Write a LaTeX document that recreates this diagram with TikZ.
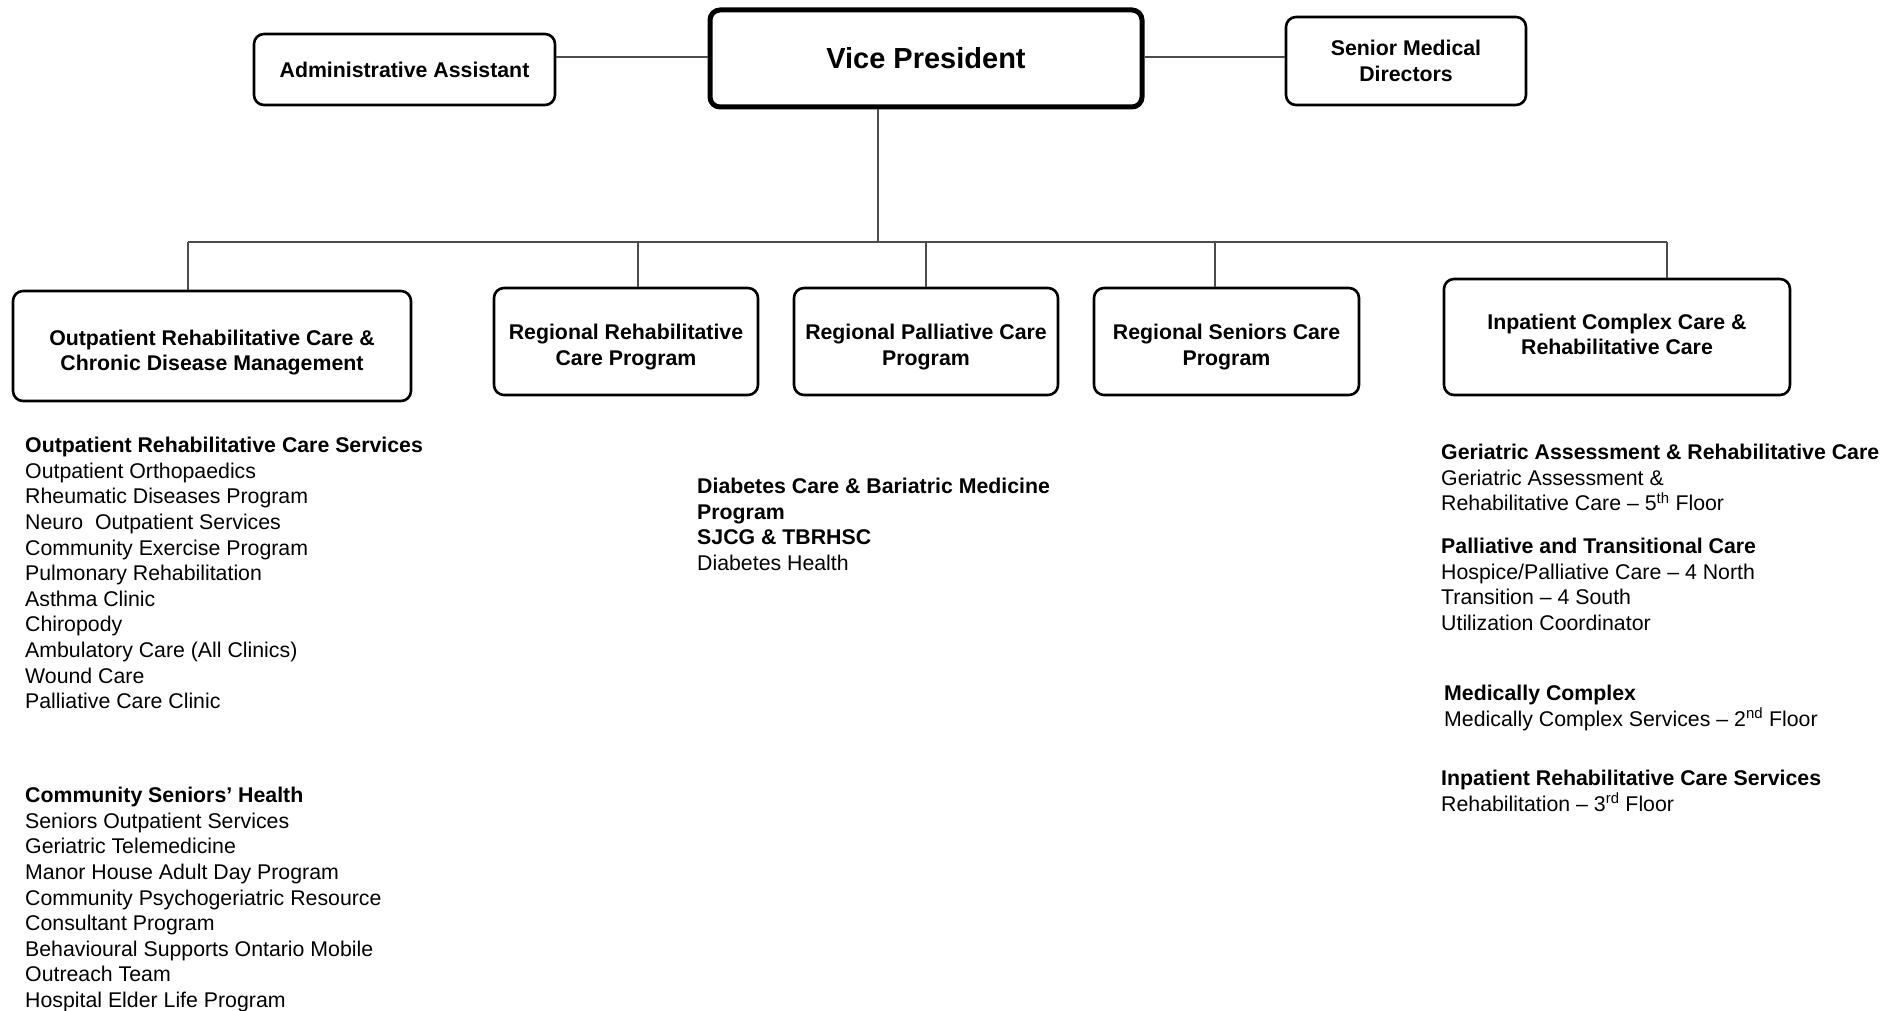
\documentclass[tikz,border=0pt]{standalone}
\usepackage{fontspec}
\setmainfont{Liberation Sans}
\newcommand{\boxtxt}[2]{\raisebox{-#1pt}[\height][\depth]{\begin{tabular}{@{}c@{}}#2\end{tabular}}}
\begin{document}
\begin{tikzpicture}[x=1pt,y=-1pt,
  box/.style={draw=black,line width=2.6pt,rounded corners=10pt,align=center,
    font=\fontsize{21.3}{25.5}\selectfont\bfseries,inner sep=2pt},
  conn/.style={draw=black!70,line width=1.1pt},
  list/.style={anchor=north west,align=left,inner sep=0pt,
    font=\fontsize{21.3}{25.6}\selectfont}]
\useasboundingbox (0,0) rectangle (1899,1011);
% top row
\node[box,line width=5pt,minimum width=432pt,minimum height=97pt,
  font=\fontsize{29}{34}\selectfont\bfseries] (vp) at (926,58.5) {Vice President};
\node[box,minimum width=301pt,minimum height=71pt] (aa) at (404.5,69.5) {Administrative Assistant};
\node[box,minimum width=240pt,minimum height=88pt] (smd) at (1406,61) {Senior Medical\\Directors};
\coordinate (ly) at (0,57);
\draw[conn] (aa.east |- ly) -- (vp.west |- ly);
\draw[conn] (vp.east |- ly) -- (smd.west |- ly);
% second row
\node[box,minimum width=398pt,minimum height=110pt] (b1) at (212,346) {\boxtxt{7}{Outpatient Rehabilitative Care \&\\Chronic Disease Management}};
\node[box,minimum width=264pt,minimum height=107pt] (b2) at (626,341.5) {\boxtxt{6}{Regional Rehabilitative\\Care Program}};
\node[box,minimum width=264pt,minimum height=107pt] (b3) at (926,341.5) {\boxtxt{6}{Regional Palliative Care\\Program}};
\node[box,minimum width=265pt,minimum height=107pt] (b4) at (1226.5,341.5) {\boxtxt{6}{Regional Seniors Care\\Program}};
\node[box,minimum width=346pt,minimum height=116pt] (b5) at (1617,337) {\boxtxt{0}{Inpatient Complex Care \&\\Rehabilitative Care}};
% connectors
\coordinate (vpd) at (878,242);
\coordinate (d1) at (188,242);
\coordinate (d2) at (638,242);
\coordinate (d3) at (926,242);
\coordinate (d4) at (1215,242);
\coordinate (d5) at (1667,242);
\draw[conn] (vpd |- vp.south) -- (vpd);
\draw[conn] (d1) -- (d5);
\draw[conn] (d1) -- (d1 |- b1.north);
\draw[conn] (d2) -- (d2 |- b2.north);
\draw[conn] (d3) -- (d3 |- b3.north);
\draw[conn] (d4) -- (d4 |- b4.north);
\draw[conn] (d5) -- (d5 |- b5.north);
% lists
\node[list] (t1) at (25,437) {\textbf{Outpatient Rehabilitative Care Services}\\
Outpatient Orthopaedics\\
Rheumatic Diseases Program\\
Neuro\ \ Outpatient Services\\
Community Exercise Program\\
Pulmonary Rehabilitation\\
Asthma Clinic\\
Chiropody\\
Ambulatory Care (All Clinics)\\
Wound Care\\
Palliative Care Clinic};
\node[list] (t2) at (25,787) {\textbf{Community Seniors’ Health}\\
Seniors Outpatient Services\\
Geriatric Telemedicine\\
Manor House Adult Day Program\\
Community Psychogeriatric Resource\\
Consultant Program\\
Behavioural Supports Ontario Mobile\\
Outreach Team\\
Hospital Elder Life Program};
\node[list] (t3) at (697,478) {\textbf{Diabetes Care \& Bariatric Medicine}\\
\textbf{Program}\\
\textbf{SJCG \& TBRHSC}\\
Diabetes Health};
\node[list] (t4) at (1441,444) {\textbf{Geriatric Assessment \& Rehabilitative Care}\\
Geriatric Assessment \&\\
Rehabilitative Care – 5\textsuperscript{th} Floor};
\node[list] (t5) at (1441,538) {\textbf{Palliative and Transitional Care}\\
Hospice/Palliative Care – 4 North\\
Transition – 4 South\\
Utilization Coordinator};
\node[list] (t6) at (1444,685) {\textbf{Medically Complex}\\
Medically Complex Services – 2\textsuperscript{nd} Floor};
\node[list] (t7) at (1441,770) {\textbf{Inpatient Rehabilitative Care Services}\\
Rehabilitation – 3\textsuperscript{rd} Floor};
\end{tikzpicture}
\end{document}
